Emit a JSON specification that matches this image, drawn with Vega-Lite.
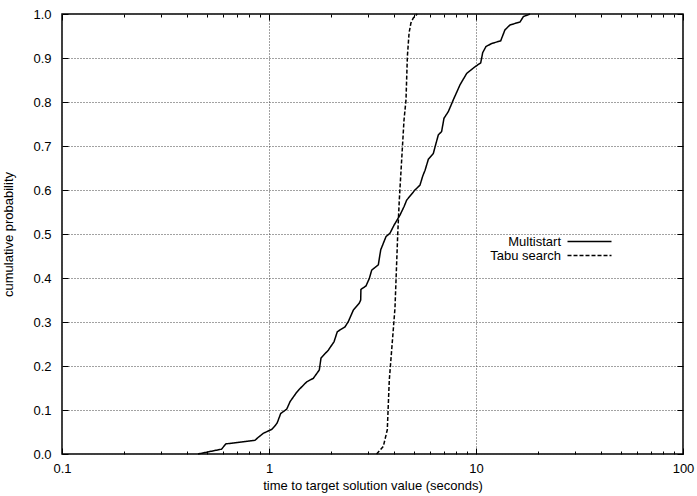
{
  "$schema": "https://vega.github.io/schema/vega-lite/v6.json",
  "width": 621,
  "height": 440,
  "autosize": {"type": "none"},
  "padding": {"left": 62, "top": 14, "right": 14, "bottom": 42},
  "background": "white",
  "config": {
    "view": {"stroke": "black", "strokeWidth": 1.5},
    "font": "Liberation Sans",
    "axis": {
      "domain": false,
      "labelFont": "Liberation Sans",
      "labelFontSize": 13,
      "labelColor": "black",
      "titleFont": "Liberation Sans",
      "titleFontSize": 13,
      "titleFontWeight": "normal",
      "titleColor": "black",
      "tickColor": "black",
      "tickWidth": 1,
      "gridColor": "#444",
      "gridDash": [1, 2],
      "gridWidth": 1
    }
  },
  "data": {
    "values": [
      {"series": "Multistart", "time": 0.454, "prob": 0.0},
      {"series": "Multistart", "time": 0.548, "prob": 0.008},
      {"series": "Multistart", "time": 0.590, "prob": 0.011},
      {"series": "Multistart", "time": 0.619, "prob": 0.023},
      {"series": "Multistart", "time": 0.855, "prob": 0.031},
      {"series": "Multistart", "time": 0.888, "prob": 0.038},
      {"series": "Multistart", "time": 0.938, "prob": 0.047},
      {"series": "Multistart", "time": 1.031, "prob": 0.056},
      {"series": "Multistart", "time": 1.069, "prob": 0.064},
      {"series": "Multistart", "time": 1.096, "prob": 0.071},
      {"series": "Multistart", "time": 1.139, "prob": 0.092},
      {"series": "Multistart", "time": 1.218, "prob": 0.102},
      {"series": "Multistart", "time": 1.264, "prob": 0.119},
      {"series": "Multistart", "time": 1.350, "prob": 0.138},
      {"series": "Multistart", "time": 1.401, "prob": 0.147},
      {"series": "Multistart", "time": 1.521, "prob": 0.164},
      {"series": "Multistart", "time": 1.637, "prob": 0.172},
      {"series": "Multistart", "time": 1.750, "prob": 0.191},
      {"series": "Multistart", "time": 1.783, "prob": 0.218},
      {"series": "Multistart", "time": 1.934, "prob": 0.236},
      {"series": "Multistart", "time": 2.061, "prob": 0.255},
      {"series": "Multistart", "time": 2.138, "prob": 0.278},
      {"series": "Multistart", "time": 2.329, "prob": 0.289},
      {"series": "Multistart", "time": 2.417, "prob": 0.301},
      {"series": "Multistart", "time": 2.555, "prob": 0.327},
      {"series": "Multistart", "time": 2.731, "prob": 0.343},
      {"series": "Multistart", "time": 2.773, "prob": 0.35},
      {"series": "Multistart", "time": 2.78, "prob": 0.374},
      {"series": "Multistart", "time": 2.942, "prob": 0.382},
      {"series": "Multistart", "time": 3.053, "prob": 0.399},
      {"series": "Multistart", "time": 3.135, "prob": 0.418},
      {"series": "Multistart", "time": 3.374, "prob": 0.430},
      {"series": "Multistart", "time": 3.465, "prob": 0.464},
      {"series": "Multistart", "time": 3.674, "prob": 0.494},
      {"series": "Multistart", "time": 3.843, "prob": 0.502},
      {"series": "Multistart", "time": 4.018, "prob": 0.520},
      {"series": "Multistart", "time": 4.293, "prob": 0.543},
      {"series": "Multistart", "time": 4.489, "prob": 0.562},
      {"series": "Multistart", "time": 4.626, "prob": 0.577},
      {"series": "Multistart", "time": 5.071, "prob": 0.600},
      {"series": "Multistart", "time": 5.362, "prob": 0.611},
      {"series": "Multistart", "time": 5.532, "prob": 0.632},
      {"series": "Multistart", "time": 5.675, "prob": 0.645},
      {"series": "Multistart", "time": 5.888, "prob": 0.670},
      {"series": "Multistart", "time": 6.221, "prob": 0.683},
      {"series": "Multistart", "time": 6.409, "prob": 0.706},
      {"series": "Multistart", "time": 6.575, "prob": 0.725},
      {"series": "Multistart", "time": 6.824, "prob": 0.733},
      {"series": "Multistart", "time": 7.002, "prob": 0.763},
      {"series": "Multistart", "time": 7.347, "prob": 0.778},
      {"series": "Multistart", "time": 7.770, "prob": 0.805},
      {"series": "Multistart", "time": 8.370, "prob": 0.839},
      {"series": "Multistart", "time": 9.017, "prob": 0.865},
      {"series": "Multistart", "time": 9.886, "prob": 0.880},
      {"series": "Multistart", "time": 10.54, "prob": 0.889},
      {"series": "Multistart", "time": 10.77, "prob": 0.912},
      {"series": "Multistart", "time": 11.17, "prob": 0.926},
      {"series": "Multistart", "time": 11.91, "prob": 0.933},
      {"series": "Multistart", "time": 13.16, "prob": 0.939},
      {"series": "Multistart", "time": 13.80, "prob": 0.964},
      {"series": "Multistart", "time": 14.59, "prob": 0.975},
      {"series": "Multistart", "time": 16.33, "prob": 0.982},
      {"series": "Multistart", "time": 16.93, "prob": 0.994},
      {"series": "Multistart", "time": 18.24, "prob": 1.0},
      {"series": "Tabu search", "time": 3.31, "prob": 0.0},
      {"series": "Tabu search", "time": 3.565, "prob": 0.017},
      {"series": "Tabu search", "time": 3.728, "prob": 0.055},
      {"series": "Tabu search", "time": 3.812, "prob": 0.168},
      {"series": "Tabu search", "time": 4.061, "prob": 0.332},
      {"series": "Tabu search", "time": 4.187, "prob": 0.5},
      {"series": "Tabu search", "time": 4.26, "prob": 0.577},
      {"series": "Tabu search", "time": 4.49, "prob": 0.759},
      {"series": "Tabu search", "time": 4.59, "prob": 0.805},
      {"series": "Tabu search", "time": 4.66, "prob": 0.903},
      {"series": "Tabu search", "time": 4.75, "prob": 0.957},
      {"series": "Tabu search", "time": 4.85, "prob": 0.98},
      {"series": "Tabu search", "time": 4.98, "prob": 0.991},
      {"series": "Tabu search", "time": 5.2, "prob": 1.0}
    ]
  },
  "resolve": {"axis": {"x": "independent", "y": "independent"}},
  "layer": [
    {
      "mark": {"type": "line", "color": "black", "strokeWidth": 1.5},
      "encoding": {
        "x": {
          "field": "time", "type": "quantitative",
          "scale": {"type": "log", "domain": [0.1, 100], "nice": false},
          "axis": {
            "orient": "bottom",
            "values": [0.1, 1, 10, 100],
            "format": "~g",
            "labelExpr": "datum.value < 1 ? '0.1' : datum.label",
            "grid": true,
            "tickSize": -6,
            "labelPadding": 14,
            "labelFlush": false,
            "title": "time to target solution value (seconds)",
            "titlePadding": 4
          }
        },
        "y": {
          "field": "prob", "type": "quantitative",
          "scale": {"domain": [0, 1], "nice": false, "zero": false},
          "axis": {
            "orient": "left",
            "values": [0, 0.1, 0.2, 0.3, 0.4, 0.5, 0.6, 0.7, 0.8, 0.9, 1.0],
            "format": ".1f",
            "grid": true,
            "tickSize": -6,
            "labelPadding": 17,
            "labelFlush": false,
            "title": "cumulative probability",
            "titlePadding": 17
          }
        },
        "strokeDash": {
          "field": "series", "type": "nominal",
          "scale": {"domain": ["Multistart", "Tabu search"], "range": [[1, 0], [4, 2]]},
          "legend": {
            "title": null,
            "orient": "none",
            "legendX": 521,
            "legendY": 221,
            "symbolType": "M-4,0H4",
            "symbolSize": 121,
            "symbolStrokeWidth": 1.5,
            "symbolStrokeColor": "black",
            "labelAlign": "right",
            "labelOffset": -35,
            "labelFont": "Liberation Sans",
            "labelFontSize": 13,
            "labelColor": "black",
            "rowPadding": -1,
            "padding": 0
          }
        }
      }
    },
    {
      "mark": {"type": "point", "opacity": 0},
      "encoding": {
        "x": {
          "field": "time", "type": "quantitative",
          "scale": {"type": "log", "domain": [0.1, 100], "nice": false},
          "axis": {"orient": "top", "values": [0.1, 1, 10, 100], "labels": false, "tickSize": -6, "grid": false, "title": null}
        },
        "y": {
          "field": "prob", "type": "quantitative",
          "scale": {"domain": [0, 1], "nice": false, "zero": false},
          "axis": {"orient": "right", "values": [0, 0.1, 0.2, 0.3, 0.4, 0.5, 0.6, 0.7, 0.8, 0.9, 1.0], "labels": false, "tickSize": -6, "grid": false, "title": null}
        }
      }
    },
    {
      "mark": {"type": "point", "opacity": 0},
      "encoding": {
        "x": {
          "field": "time", "type": "quantitative",
          "scale": {"type": "log", "domain": [0.1, 100], "nice": false},
          "axis": {"orient": "bottom", "values": [0.2, 0.3, 0.4, 0.5, 0.6, 0.7, 0.8, 0.9, 2, 3, 4, 5, 6, 7, 8, 9, 20, 30, 40, 50, 60, 70, 80, 90], "labels": false, "tickSize": -3, "grid": false, "title": null}
        },
        "y": {"field": "prob", "type": "quantitative", "scale": {"domain": [0, 1], "nice": false, "zero": false}, "axis": null}
      }
    },
    {
      "mark": {"type": "point", "opacity": 0},
      "encoding": {
        "x": {
          "field": "time", "type": "quantitative",
          "scale": {"type": "log", "domain": [0.1, 100], "nice": false},
          "axis": {"orient": "top", "values": [0.2, 0.3, 0.4, 0.5, 0.6, 0.7, 0.8, 0.9, 2, 3, 4, 5, 6, 7, 8, 9, 20, 30, 40, 50, 60, 70, 80, 90], "labels": false, "tickSize": -3, "grid": false, "title": null}
        },
        "y": {"field": "prob", "type": "quantitative", "scale": {"domain": [0, 1], "nice": false, "zero": false}, "axis": null}
      }
    }
  ]
}
